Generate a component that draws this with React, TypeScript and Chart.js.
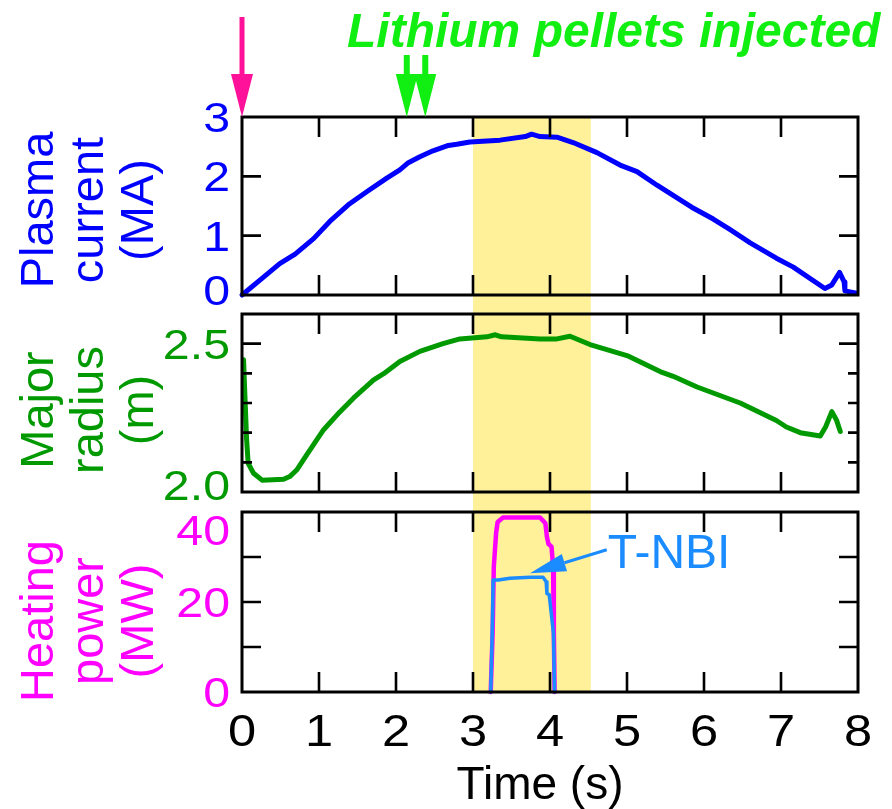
import { useEffect, useRef } from "react";
import { Chart, registerables } from "chart.js";

Chart.register(...registerables);

// ---------------- data ----------------
// Plasma current (MA) vs time (s)
const currentTime = [0, 0.26, 0.49, 0.69, 0.93, 1.14, 1.38, 1.62, 1.88, 2.05, 2.16, 2.31, 2.48, 2.68, 2.79, 2.96, 3.35, 3.68, 3.76, 3.87, 4.09, 4.3, 4.61, 4.91, 5.13, 5.39, 5.84, 6.12, 6.34, 6.6, 6.94, 7.16, 7.57, 7.66, 7.76, 7.82, 7.83, 7.98];
const currentMA = [0, 0.28, 0.53, 0.69, 0.95, 1.24, 1.52, 1.74, 1.97, 2.11, 2.23, 2.33, 2.43, 2.52, 2.54, 2.58, 2.61, 2.67, 2.71, 2.67, 2.66, 2.57, 2.4, 2.19, 2.08, 1.85, 1.48, 1.28, 1.1, 0.88, 0.62, 0.47, 0.11, 0.17, 0.38, 0.22, 0.07, 0.03];

// Major radius (m) vs time (s)
const radiusTime = [0.02, 0.04, 0.06, 0.08, 0.15, 0.26, 0.54, 0.62, 0.71, 0.84, 1.06, 1.27, 1.45, 1.71, 1.84, 2.05, 2.31, 2.61, 2.83, 3.18, 3.29, 3.37, 3.87, 4.09, 4.26, 4.52, 5.0, 5.43, 5.6, 5.91, 6.47, 6.94, 7.07, 7.25, 7.51, 7.58, 7.66, 7.72, 7.77];
const radiusM = [2.446, 2.31, 2.176, 2.097, 2.063, 2.04, 2.043, 2.052, 2.074, 2.125, 2.21, 2.27, 2.317, 2.378, 2.399, 2.44, 2.474, 2.5, 2.516, 2.523, 2.53, 2.523, 2.516, 2.516, 2.525, 2.497, 2.46, 2.406, 2.39, 2.354, 2.3, 2.241, 2.219, 2.2, 2.189, 2.22, 2.271, 2.243, 2.204];

// Total heating power (MW)
const totalTime = [3.23, 3.255, 3.27, 3.3, 3.32, 3.39, 3.87, 3.94, 3.96, 3.98, 4.02, 4.04, 4.05, 4.06];
const totalMW = [0, 13, 27.8, 35.3, 37.8, 38.8, 38.8, 37.5, 34.5, 32.9, 32.3, 27.8, 13, 0];

// Tangential NBI power (MW)
const nbiTime = [3.23, 3.25, 3.262, 3.33, 3.48, 3.74, 3.91, 3.95, 3.96, 3.99, 4.045, 4.06];
const nbiMW = [0, 13, 24.9, 24.9, 25.3, 25.5, 25.5, 24.5, 21.9, 21.6, 13, 0];

const timeTicks = [0, 1, 2, 3, 4, 5, 6, 7, 8];
const currentTicks = [0, 1, 2, 3];
const radiusTicks = [2.0, 2.5];
const radiusMinorTicks = [2.1, 2.2, 2.3, 2.4];
const powerTicks = [0, 20, 40];
const powerMidTicks = [10, 30];

const heatingWindow = [3.0, 4.53];
const pelletTimes = [2.14, 2.38];
const startTime = 0;

// ---------------- styling ----------------
const W = 892;
const H = 809;
const PLOT_LEFT = 242;
const PLOT_RIGHT = 858;
const FONT = "'Liberation Sans', Arial, Helvetica, sans-serif";

const BLUE = "#0000ff";
const GREEN = "#009a00";
const MAGENTA = "#ff00ff";
const NBI_BLUE = "#1a8cff";
const BAND = "#fff09a";
const PELLET_GREEN = "#11ee11";
const START_PINK = "#ff1199";

type Tick = { v: number; len: number };

type Panel = {
  top: number;
  bottom: number;
  bandTop: number;
  bandBottom: number;
  min: number;
  max: number;
  color: string;
  title: string[];
  titleY: number;
  labels: number[];
  digits: number;
  labelMinTop?: number;
  labelMaxBottom?: number;
  ticks: Tick[];
  extra?: (chart: Chart) => void;
};

const pts = (xs: number[], ys: number[]) => xs.map((x, i) => ({ x, y: ys[i] }));

function drawText(
  ctx: CanvasRenderingContext2D,
  s: string,
  x: number,
  y: number,
  font: string,
  color: string,
  align: CanvasTextAlign,
  sx = 1
) {
  ctx.save();
  ctx.translate(x, y);
  ctx.scale(sx, 1);
  ctx.font = font;
  ctx.fillStyle = color;
  ctx.textAlign = align;
  ctx.textBaseline = "alphabetic";
  ctx.fillText(s, 0, 0);
  ctx.restore();
}

function downArrow(
  ctx: CanvasRenderingContext2D,
  x: number,
  shaftTop: number,
  headTop: number,
  tip: number,
  shaftW: number,
  headHalf: number,
  color: string
) {
  ctx.save();
  ctx.fillStyle = color;
  ctx.fillRect(x - shaftW / 2, shaftTop, shaftW, headTop - shaftTop + 1);
  ctx.beginPath();
  ctx.moveTo(x - headHalf, headTop);
  ctx.lineTo(x + headHalf, headTop);
  ctx.lineTo(x, tip);
  ctx.closePath();
  ctx.fill();
  ctx.restore();
}

function panelPlugin(p: Panel) {
  return {
    id: "panelDecor",
    beforeDatasetsDraw(chart: Chart) {
      const { ctx, scales } = chart;
      const x0 = scales.x.getPixelForValue(heatingWindow[0]);
      const x1 = scales.x.getPixelForValue(heatingWindow[1]);
      ctx.save();
      ctx.fillStyle = BAND;
      ctx.fillRect(x0, p.bandTop, x1 - x0, p.bandBottom - p.bandTop);
      ctx.restore();
    },
    afterDraw(chart: Chart) {
      const { ctx, scales, chartArea: a } = chart;
      ctx.save();
      ctx.strokeStyle = "#000";
      ctx.lineWidth = 3;
      ctx.strokeRect(a.left, a.top, a.right - a.left, a.bottom - a.top);
      ctx.lineWidth = 2.6;
      ctx.beginPath();
      for (const t of timeTicks) {
        if (t <= 0 || t >= 8) continue;
        const px = scales.x.getPixelForValue(t);
        ctx.moveTo(px, a.top);
        ctx.lineTo(px, a.top + 20);
        ctx.moveTo(px, a.bottom);
        ctx.lineTo(px, a.bottom - 20);
      }
      for (const tk of p.ticks) {
        const py = scales.y.getPixelForValue(tk.v);
        ctx.moveTo(a.left, py);
        ctx.lineTo(a.left + tk.len, py);
        ctx.moveTo(a.right, py);
        ctx.lineTo(a.right - tk.len, py);
      }
      ctx.stroke();
      ctx.restore();

      // y tick labels
      const size = 42;
      const cap = size * 0.716;
      for (const v of p.labels) {
        let cy = scales.y.getPixelForValue(v);
        if (p.labelMinTop !== undefined) cy = Math.max(cy, p.labelMinTop + cap / 2);
        if (p.labelMaxBottom !== undefined) cy = Math.min(cy, p.labelMaxBottom - cap / 2);
        drawText(ctx, v.toFixed(p.digits), 230, cy + cap / 2, `${size}px ${FONT}`, p.color, "right", 1.15);
      }

      // rotated axis title, three lines
      const baselines = [53, 103, 153];
      p.title.forEach((s, i) => {
        ctx.save();
        ctx.translate(baselines[i], p.titleY);
        ctx.rotate(-Math.PI / 2);
        ctx.font = `47px ${FONT}`;
        ctx.fillStyle = p.color;
        ctx.textAlign = "center";
        ctx.textBaseline = "alphabetic";
        ctx.fillText(s, 0, 0);
        ctx.restore();
      });

      if (p.extra) p.extra(chart);
    },
  };
}

function makeChart(canvas: HTMLCanvasElement, p: Panel, datasets: any[]) {
  return new Chart(canvas, {
    type: "line",
    data: { datasets },
    options: {
      responsive: false,
      animation: false,
      devicePixelRatio: 1,
      events: [],
      layout: {
        padding: { left: PLOT_LEFT, right: W - PLOT_RIGHT, top: p.top, bottom: H - p.bottom },
      },
      plugins: { legend: { display: false }, tooltip: { enabled: false } },
      scales: {
        x: { type: "linear", min: 0, max: 8, display: false },
        y: { type: "linear", min: p.min, max: p.max, display: false },
      },
      elements: { point: { radius: 0 }, line: { tension: 0 } },
    },
    plugins: [panelPlugin(p)],
  } as any);
}

// lower "order" is painted on top
const line = (data: { x: number; y: number }[], color: string, width: number, order = 0) => ({
  data,
  borderColor: color,
  borderWidth: width,
  borderJoinStyle: "round",
  borderCapStyle: "round",
  pointRadius: 0,
  clip: false,
  fill: false,
  order,
});

export default function App() {
  const c1 = useRef<HTMLCanvasElement>(null);
  const c2 = useRef<HTMLCanvasElement>(null);
  const c3 = useRef<HTMLCanvasElement>(null);

  useEffect(() => {
    const currentPanel: Panel = {
      top: 117,
      bottom: 295,
      bandTop: 117,
      bandBottom: 305,
      min: 0,
      max: 3,
      color: BLUE,
      title: ["Plasma", "current", "(MA)"],
      titleY: 210,
      labels: currentTicks,
      digits: 0,
      labelMaxBottom: 305,
      ticks: currentTicks.filter((v) => v > 0 && v < 3).map((v) => ({ v, len: 19 })),
      extra(chart) {
        const { ctx, scales, chartArea: a } = chart;
        downArrow(ctx, scales.x.getPixelForValue(startTime), 17, 74, a.top, 5, 11, START_PINK);
        for (const t of pelletTimes) {
          downArrow(ctx, scales.x.getPixelForValue(t), 55, 74, a.top, 6, 11, PELLET_GREEN);
        }
        drawText(ctx, "Lithium pellets injected", 347, 47, `italic bold 48px ${FONT}`, PELLET_GREEN, "left");
      },
    };

    const radiusPanel: Panel = {
      top: 314,
      bottom: 492,
      bandTop: 305,
      bandBottom: 502,
      min: 2.0,
      max: 2.6,
      color: GREEN,
      title: ["Major", "radius", "(m)"],
      titleY: 410,
      labels: radiusTicks,
      digits: 1,
      labelMaxBottom: 500,
      ticks: [
        ...radiusMinorTicks.map((v) => ({ v, len: 10 })),
        ...radiusTicks.filter((v) => v > 2.0).map((v) => ({ v, len: 19 })),
      ],
    };

    const powerPanel: Panel = {
      top: 512,
      bottom: 692,
      bandTop: 502,
      bandBottom: 692,
      min: 0,
      max: 40,
      color: MAGENTA,
      title: ["Heating", "power", "(MW)"],
      titleY: 621,
      labels: powerTicks,
      digits: 0,
      labelMinTop: 515,
      ticks: [...powerMidTicks, ...powerTicks.filter((v) => v > 0 && v < 40)].map((v) => ({ v, len: 19 })),
      extra(chart) {
        const { ctx, scales } = chart;
        // time axis labels
        for (const t of timeTicks) {
          drawText(ctx, String(t), scales.x.getPixelForValue(t), 746, `44px ${FONT}`, "#000", "center", 1.15);
        }
        drawText(ctx, "Time (s)", 540, 799, `46px ${FONT}`, "#000", "center");

        // T-NBI callout
        const lx = scales.x.getPixelForValue(4.75);
        const ly = scales.y.getPixelForValue(27.6);
        drawText(ctx, "T-NBI", lx, ly, `48px ${FONT}`, NBI_BLUE, "left");
        const tx = scales.x.getPixelForValue(3.74);
        const ty = scales.y.getPixelForValue(26.4);
        const sx0 = lx - 1;
        const sy0 = ly - 18;
        const dx = tx - sx0;
        const dy = ty - sy0;
        const len = Math.hypot(dx, dy);
        const ux = dx / len;
        const uy = dy / len;
        const headLen = 36;
        const half = 9;
        const bx = tx - ux * headLen;
        const by = ty - uy * headLen;
        ctx.save();
        ctx.strokeStyle = NBI_BLUE;
        ctx.fillStyle = NBI_BLUE;
        ctx.lineWidth = 3;
        ctx.beginPath();
        ctx.moveTo(sx0, sy0);
        ctx.lineTo(bx, by);
        ctx.stroke();
        ctx.beginPath();
        ctx.moveTo(tx, ty);
        ctx.lineTo(bx - uy * half, by + ux * half);
        ctx.lineTo(bx + uy * half, by - ux * half);
        ctx.closePath();
        ctx.fill();
        ctx.restore();
      },
    };

    const charts = [
      makeChart(c1.current!, currentPanel, [line(pts(currentTime, currentMA), BLUE, 5)]),
      makeChart(c2.current!, radiusPanel, [line(pts(radiusTime, radiusM), GREEN, 5)]),
      makeChart(c3.current!, powerPanel, [
        line(pts(totalTime, totalMW), MAGENTA, 4.5, 1),
        line(pts(nbiTime, nbiMW), NBI_BLUE, 3.5, 0),
      ]),
    ];
    return () => charts.forEach((c) => c.destroy());
  }, []);

  const cs: React.CSSProperties = { position: "absolute", left: 0, top: 0 };
  return (
    <div style={{ position: "absolute", left: 0, top: 0, width: W, height: H, background: "#fff", overflow: "hidden" }}>
      <canvas ref={c1} width={W} height={H} style={cs} />
      <canvas ref={c2} width={W} height={H} style={cs} />
      <canvas ref={c3} width={W} height={H} style={cs} />
    </div>
  );
}
